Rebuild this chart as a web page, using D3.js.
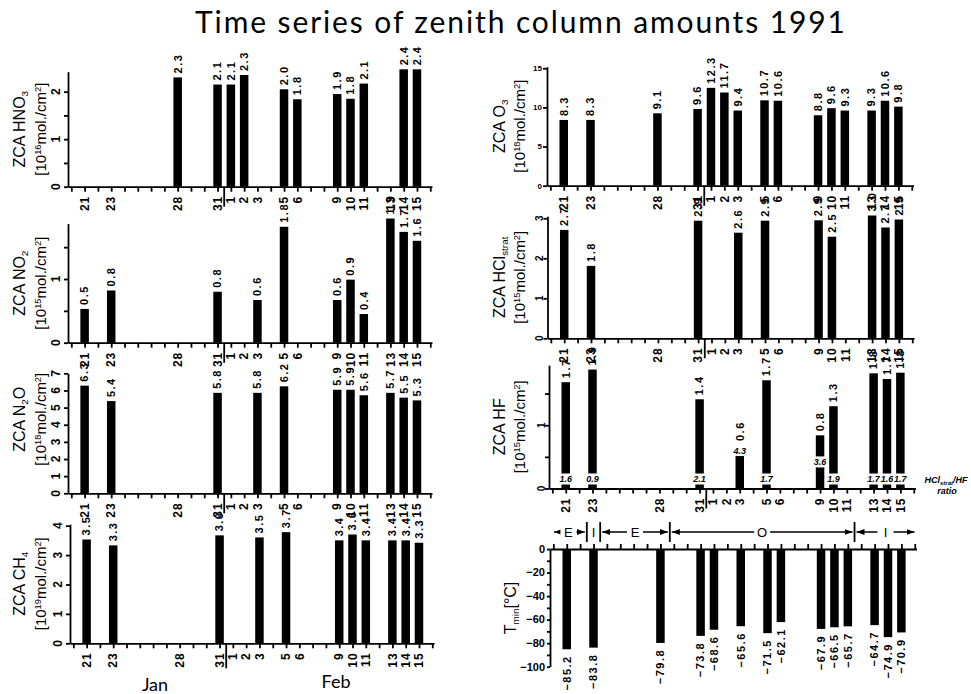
<!DOCTYPE html>
<html>
<head>
<meta charset="utf-8">
<script src="https://d3js.org/d3.v7.min.js"></script>
<style>
body { margin: 0; background: #fff; }
svg { display: block; }
text { fill: #000; }
.num { font-family: "Liberation Sans", Arial, sans-serif; font-weight: bold; }
.ttl { font-family: "Liberation Sans", Arial, sans-serif; }
</style>
</head>
<body>
<div id="chart"></div>
<script>
// days are counted from 1 Jan, so Feb d -> 31 + d
var dayTicks = [21, 23, 28, 31, 32, 33, 34, 36, 37, 40, 41, 42, 44, 45, 46];
var dayTickLabels = ["21", "23", "28", "31", "1", "2", "3", "5", "6", "9", "10", "11", "13", "14", "15"];

var hno3Days = [28, 31, 32, 33, 36, 37, 40, 41, 42, 45, 46];
var hno3Values = [2.3, 2.15, 2.15, 2.35, 2.05, 1.84, 1.95, 1.85, 2.17, 2.47, 2.47];
var hno3Labels = ["2.3", "2.1", "2.1", "2.3", "2.0", "1.8", "1.9", "1.8", "2.1", "2.4", "2.4"];

var no2Days = [21, 23, 31, 34, 36, 40, 41, 42, 44, 45, 46];
var no2Values = [0.53, 0.82, 0.8, 0.67, 1.82, 0.67, 0.99, 0.45, 1.95, 1.74, 1.6];
var no2Labels = ["0.5", "0.8", "0.8", "0.6", "1.8", "0.6", "0.9", "0.4", "1.9", "1.7", "1.6"];

var n2oDays = [21, 23, 31, 34, 36, 40, 41, 42, 44, 45, 46];
var n2oValues = [6.28, 5.38, 5.86, 5.86, 6.24, 6.04, 6.04, 5.72, 5.86, 5.58, 5.42];
var n2oLabels = ["6.3", "5.4", "5.8", "5.8", "6.2", "5.9", "5.9", "5.6", "5.7", "5.5", "5.3"];

var ch4Days = [21, 23, 31, 34, 36, 40, 41, 42, 44, 45, 46];
var ch4Values = [3.53, 3.33, 3.67, 3.6, 3.78, 3.5, 3.7, 3.5, 3.5, 3.5, 3.42];
var ch4Labels = ["3.5", "3.3", "3.6", "3.5", "3.7", "3.4", "3.6", "3.4", "3.4", "3.4", "3.3"];

var o3Days = [21, 23, 28, 31, 32, 33, 34, 36, 37, 40, 41, 42, 44, 45, 46];
var o3Values = [8.4, 8.4, 9.25, 9.8, 12.5, 11.9, 9.6, 10.9, 10.85, 9.0, 9.9, 9.6, 9.6, 10.85, 10.1];
var o3Labels = ["8.3", "8.3", "9.1", "9.6", "12.3", "11.7", "9.4", "10.7", "10.6", "8.8", "9.6", "9.3", "9.3", "10.6", "9.8"];

var hclDays = [21, 23, 31, 34, 36, 40, 41, 44, 45, 46];
var hclValues = [2.71, 1.81, 2.94, 2.64, 2.94, 2.95, 2.54, 3.07, 2.77, 2.97];
var hclLabels = ["2.7", "1.8", "2.9", "2.6", "2.9", "2.9", "2.5", "3.0", "2.7", "2.9"];

var hfDays = [21, 23, 31, 34, 36, 40, 41, 44, 45, 46];
var hfValues = [1.68, 1.88, 1.41, 0.6, 1.71, 0.84, 1.3, 1.82, 1.73, 1.83];
var hfLabels = ["1.7", "1.9", "1.4", "0.6", "1.7", "0.8", "1.3", "1.8", "1.7", "1.8"];
var hfRatios = ["1.6", "0.9", "2.1", "4.3", "1.7", "3.6", "1.9", "1.7", "1.6", "1.7"];
var hfRatioAt = [0.15, 0.15, 0.15, 0.6, 0.15, 0.42, 0.15, 0.15, 0.15, 0.15];

var tminDays = [21, 23, 28, 31, 32, 34, 36, 37, 40, 41, 42, 44, 45, 46];
var tminValues = [-85.2, -83.8, -79.8, -73.8, -68.6, -65.6, -71.5, -62.1, -67.9, -66.5, -65.7, -64.7, -74.9, -70.9];

// vortex position bands above the temperature panel
var vortexBounds = [22.5, 23.5, 28.7, 42.5];
var vortexNames = ["E", "I", "E", "O", "I"];

var svgWidth = 971;
var svgHeight = 694;
var dayDomain = [19.75, 47.13];
var barWidth = 8.5;

var svg = d3.select("#chart")
	.append("svg")
	.attr("width", svgWidth)
	.attr("height", svgHeight);

svg.append("defs").append("marker")
	.attr("id", "arr")
	.attr("viewBox", "0 0 8 6")
	.attr("refX", 8)
	.attr("refY", 3)
	.attr("markerWidth", 8)
	.attr("markerHeight", 6)
	.attr("markerUnits", "userSpaceOnUse")
	.attr("orient", "auto-start-reverse")
	.append("path")
	.attr("d", "M0,0L8,3L0,6z");

// main title
svg.append("text")
	.attr("x", 520)
	.attr("y", 33)
	.attr("text-anchor", "middle")
	.attr("textLength", 650)
	.attr("lengthAdjust", "spacing")
	.style("font-family", "Lato, 'Open Sans', sans-serif")
	.style("font-weight", 400)
	.style("font-size", "30px")
	.text("Time series of zenith column amounts 1991");

function addTitle(x, cy, parts, size) {
	var t = svg.append("text")
		.attr("class", "ttl")
		.attr("transform", `translate(${x}, ${cy}) rotate(-90)`)
		.attr("text-anchor", "middle")
		.style("font-size", size + "px");
	parts.forEach(function(p) {
		var s = t.append("tspan").text(p[0]);
		if (p[1] === "sub") s.attr("baseline-shift", "-3").style("font-size", (size * 0.62) + "px");
		if (p[1] === "sup") s.attr("baseline-shift", "5").style("font-size", (size * 0.62) + "px");
	});
}

var panels = [
	{days: hno3Days, values: hno3Values, labels: hno3Labels, left: 68, right: 432, zero: 186.7, top: 71.7, max: 2.42,
	 ticks: [0, 0.5, 1, 1.5, 2], shown: [0, 1, 2], tickRot: true, tx: [25, 46],
	 t1: [["ZCA HNO"], ["3", "sub"]], t2: [["[10"], ["16", "sup"], ["mol./cm"], ["2", "sup"], ["]"]], dateDrop: 20},
	{days: no2Days, values: no2Values, labels: no2Labels, left: 68, right: 432, zero: 342.7, top: 223.6, max: 1.87,
	 ticks: [0, 0.5, 1, 1.5], shown: [0, 1], tickRot: true, tx: [25, 46],
	 t1: [["ZCA NO"], ["2", "sub"]], t2: [["[10"], ["15", "sup"], ["mol./cm"], ["2", "sup"], ["]"]], dateDrop: 20},
	{days: n2oDays, values: n2oValues, labels: n2oLabels, left: 68, right: 432, zero: 493.3, top: 373.3, max: 7,
	 ticks: [0, 1, 2, 3, 4, 5, 6, 7], shown: [0, 1, 2, 3, 4, 5, 6, 7], tickRot: true, tx: [25, 46], tdy: -14,
	 t1: [["ZCA N"], ["2", "sub"], ["O"]], t2: [["[10"], ["18", "sup"], ["mol./cm"], ["2", "sup"], ["]"]], dateDrop: 20},
	{days: ch4Days, values: ch4Values, labels: ch4Labels, left: 70, right: 434, zero: 643.3, top: 524.2, max: 4.05,
	 ticks: [0, 1, 2, 3, 4], shown: [0, 1, 2, 3, 4], tickRot: true, tx: [25, 46],
	 t1: [["ZCA CH"], ["4", "sub"]], t2: [["[10"], ["19", "sup"], ["mol./cm"], ["2", "sup"], ["]"]], dateDrop: 25},
	{days: o3Days, values: o3Values, labels: o3Labels, left: 547, right: 913.5, zero: 185.7, top: 66.7, max: 15.2,
	 ticks: [0, 5, 10, 15], shown: [0, 5, 10, 15], tickRot: false, small: true, tx: [505, 525],
	 t1: [["ZCA O"], ["3", "sub"]], t2: [["[10"], ["18", "sup"], ["mol./cm"], ["2", "sup"], ["]"]], dateDrop: 20},
	{days: hclDays, values: hclValues, labels: hclLabels, left: 547.5, right: 914, zero: 338.3, top: 216.3, max: 3.05,
	 ticks: [0, 1, 2, 3], shown: [0, 1, 2, 3], tickRot: true, small: true, tx: [505, 525],
	 t1: [["ZCA HCl"], ["strat", "sub"]], t2: [["[10"], ["15", "sup"], ["mol./cm"], ["2", "sup"], ["]"]], dateDrop: 20},
	{days: hfDays, values: hfValues, labels: hfLabels, left: 549, right: 915.5, zero: 488.5, top: 365.1, max: 1.95,
	 ticks: [0, 0.5, 1, 1.5], shown: [0, 1], tickRot: true, small: true, tx: [505, 525],
	 t1: [["ZCA HF"]], t2: [["[10"], ["15", "sup"], ["mol./cm"], ["2", "sup"], ["]"]], dateDrop: 20,
	 ratios: hfRatios, ratioAt: hfRatioAt}
];

panels.forEach(function(p) {
	var x = d3.scaleLinear().domain(dayDomain).range([p.left, p.right]);
	var y = d3.scaleLinear().domain([0, p.max]).range([p.zero, p.top]);
	var g = svg.append("g");

	// x axis with a tick for every day
	g.append("g")
		.attr("transform", `translate(0, ${p.zero})`)
		.call(d3.axisBottom(x).tickValues(d3.range(20, 48)).tickSize(5).tickSizeOuter(0).tickFormat(""))
		.call(a => a.selectAll("path, line").attr("stroke", "#000").attr("stroke-width", 1.8));

	// month break
	g.append("line")
		.attr("x1", x(31.5)).attr("x2", x(31.5))
		.attr("y1", p.zero).attr("y2", p.zero + p.dateDrop)
		.attr("stroke", "#000").attr("stroke-width", 1.8);

	// y axis
	g.append("g")
		.attr("transform", `translate(${p.left}, 0)`)
		.call(d3.axisLeft(y).tickValues(p.ticks).tickSize(4).tickSizeOuter(0).tickFormat(""))
		.call(a => a.selectAll("path, line").attr("stroke", "#000").attr("stroke-width", 1.8));

	g.selectAll(".ytl")
		.data(p.shown)
		.enter()
		.append("text")
		.attr("class", "num")
		.attr("transform", d => p.tickRot
			? `translate(${p.left - (p.small ? 8 : 12)}, ${y(d)}) rotate(-90)`
			: `translate(${p.left - 5}, ${y(d)})`)
		.attr("text-anchor", p.tickRot ? "middle" : "end")
		.attr("dy", "0.35em")
		.style("font-size", p.small ? (p.tickRot ? "10px" : "8px") : "12px")
		.text(d => d);

	// date labels
	g.selectAll(".dtl")
		.data(dayTicks)
		.enter()
		.append("text")
		.attr("class", "num")
		.attr("transform", (d, i) => `translate(${x(d)}, ${p.zero + 9}) rotate(-90)`)
		.attr("text-anchor", "end")
		.attr("dy", "0.35em")
		.style("font-size", "12px")
		.style("letter-spacing", "1px")
		.text((d, i) => dayTickLabels[i]);

	// bars
	g.selectAll(".bar")
		.data(p.values)
		.enter()
		.append("rect")
		.attr("x", (d, i) => x(p.days[i]) - barWidth / 2)
		.attr("y", d => y(d))
		.attr("width", barWidth)
		.attr("height", d => p.zero - y(d))
		.attr("fill", "#000");

	// HCl/HF ratio boxes sitting on the HF bars
	var boxTop = p.values.map(d => y(d));
	if (p.ratios) {
		p.ratios.forEach(function(r, i) {
			var cy = y(p.ratioAt[i]);
			var cx = x(p.days[i]);
			g.append("rect")
				.attr("x", cx - 7).attr("y", cy - 5.5)
				.attr("width", 14).attr("height", 11)
				.attr("fill", "#fff");
			g.append("text")
				.attr("class", "num")
				.attr("x", cx).attr("y", cy)
				.attr("dy", "0.35em")
				.attr("text-anchor", "middle")
				.style("font-size", "9px")
				.style("font-style", "italic")
				.text(r);
			boxTop[i] = Math.min(boxTop[i], cy - 5.5);
		});
	}

	// value labels above the bars
	g.selectAll(".val")
		.data(p.labels)
		.enter()
		.append("text")
		.attr("class", "num")
		.attr("transform", (d, i) => `translate(${x(p.days[i])}, ${boxTop[i] - 4}) rotate(-90)`)
		.attr("dy", "0.35em")
		.style("font-size", "11px")
		.style("letter-spacing", "1.5px")
		.text(d => d);

	addTitle(p.tx[0], (p.zero + p.top) / 2 + (p.tdy || 0), p.t1, 16);
	addTitle(p.tx[1], (p.zero + p.top) / 2 + (p.tdy || 0), p.t2, 15);
});

// minimum temperature panel, bars hang from zero
var tx = d3.scaleLinear().domain(dayDomain).range([550, 916.5]);
var ty = d3.scaleLinear().domain([-100, 0]).range([666.7, 549]);
var tg = svg.append("g");

tg.append("g")
	.attr("transform", "translate(0, 549)")
	.call(d3.axisTop(tx).tickValues(d3.range(20, 48)).tickSize(5).tickSizeOuter(0).tickFormat(""))
	.call(a => a.selectAll("path, line").attr("stroke", "#000").attr("stroke-width", 1.8));

tg.append("g")
	.attr("transform", "translate(550, 0)")
	.call(d3.axisLeft(ty).tickValues(d3.range(-100, 1, 10)).tickSize(3).tickSizeOuter(0).tickFormat(""))
	.call(a => a.selectAll("path, line").attr("stroke", "#000").attr("stroke-width", 1.8));

tg.selectAll(".ttk")
	.data(d3.range(-100, 1, 20))
	.enter()
	.append("text")
	.attr("class", "num")
	.attr("x", 545)
	.attr("y", d => ty(d))
	.attr("dy", "0.35em")
	.attr("text-anchor", "end")
	.style("font-size", "11px")
	.text(d => d === 0 ? "0" : "\u2212" + Math.abs(d));

tg.selectAll(".tbar")
	.data(tminValues)
	.enter()
	.append("rect")
	.attr("x", (d, i) => tx(tminDays[i]) - barWidth / 2)
	.attr("y", ty(0))
	.attr("width", barWidth)
	.attr("height", d => ty(d) - ty(0))
	.attr("fill", "#000");

tg.selectAll(".tval")
	.data(tminValues)
	.enter()
	.append("text")
	.attr("class", "num")
	.attr("transform", (d, i) => `translate(${tx(tminDays[i])}, ${ty(d) + 6}) rotate(-90)`)
	.attr("text-anchor", "end")
	.attr("dy", "0.35em")
	.style("font-size", "11px")
	.style("letter-spacing", "1.5px")
	.text(d => "\u2212" + Math.abs(d).toFixed(1));

addTitle(516, 608, [["T"], ["min", "sub"], ["[\u00b0C]"]], 16);

// vortex position bands
var bandEdges = [dayDomain[0]].concat(vortexBounds).concat([dayDomain[1]]);
var bandY = 532;
vortexNames.forEach(function(name, i) {
	var x0 = tx(bandEdges[i]) + (i === 0 ? 4 : 2);
	var x1 = tx(bandEdges[i + 1]) - 2;
	var mid = (tx(bandEdges[i]) + tx(bandEdges[i + 1])) / 2;
	if (x1 - x0 > 20) {
		tg.append("line")
			.attr("x1", x0).attr("x2", x1)
			.attr("y1", bandY).attr("y2", bandY)
			.attr("stroke", "#000").attr("stroke-width", 1.3)
			.attr("marker-start", "url(#arr)")
			.attr("marker-end", "url(#arr)");
		tg.append("rect")
			.attr("x", mid - 8).attr("y", bandY - 7)
			.attr("width", 16).attr("height", 14)
			.attr("fill", "#fff");
	}
	tg.append("text")
		.attr("class", "ttl")
		.attr("x", mid).attr("y", bandY)
		.attr("dy", "0.36em")
		.attr("text-anchor", "middle")
		.style("font-size", "13px")
		.text(name);
});
vortexBounds.forEach(function(b) {
	tg.append("line")
		.attr("x1", tx(b)).attr("x2", tx(b))
		.attr("y1", bandY - 10).attr("y2", bandY + 10)
		.attr("stroke", "#000").attr("stroke-width", 1.8);
});

// ratio note beside the HF panel
var note = svg.append("text")
	.attr("class", "num")
	.attr("x", 946).attr("y", 483)
	.attr("text-anchor", "middle")
	.style("font-size", "9px")
	.style("font-style", "italic");
note.append("tspan").text("HCl");
note.append("tspan").attr("baseline-shift", "-2").style("font-size", "6px").text("strat");
note.append("tspan").text("/HF");
svg.append("text")
	.attr("class", "num")
	.attr("x", 947).attr("y", 494)
	.attr("text-anchor", "middle")
	.style("font-size", "9px")
	.style("font-style", "italic")
	.text("ratio");

// month names
svg.append("text")
	.attr("x", 155).attr("y", 691)
	.attr("text-anchor", "middle")
	.style("font-family", "Lato, 'Open Sans', sans-serif")
	.style("font-size", "18px")
	.text("Jan");
svg.append("text")
	.attr("x", 336).attr("y", 688)
	.attr("text-anchor", "middle")
	.style("font-family", "Lato, 'Open Sans', sans-serif")
	.style("font-size", "18px")
	.text("Feb");
</script>
</body>
</html>
